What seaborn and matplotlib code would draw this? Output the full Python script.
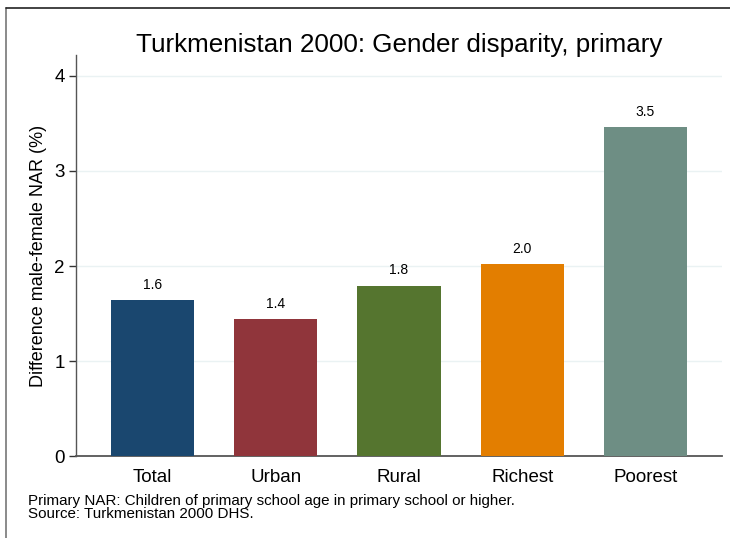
import matplotlib
matplotlib.use("Agg")
import matplotlib.pyplot as plt
from matplotlib.lines import Line2D
import seaborn as sns
import pandas as pd

categories = ["Total", "Urban", "Rural", "Richest", "Poorest"]
values = [1.64, 1.44, 1.79, 2.02, 3.46]
value_labels = ["1.6", "1.4", "1.8", "2.0", "3.5"]
colors = ["#1a476f", "#90353b", "#55752f", "#e37e00", "#6e8e84"]
yticks = [0, 1, 2, 3, 4]
title = "Turkmenistan 2000: Gender disparity, primary"
ylabel = "Difference male-female NAR (%)"
notes = ("Primary NAR: Children of primary school age in primary school or higher.\n"
         "Source: Turkmenistan 2000 DHS.")

sns.set_style("white")
plt.rcParams["font.family"] = ["Liberation Sans", "DejaVu Sans"]
plt.rcParams["text.color"] = "black"
plt.rcParams["xtick.color"] = "black"
plt.rcParams["ytick.color"] = "black"
plt.rcParams["axes.labelcolor"] = "black"

df = pd.DataFrame({"cat": categories, "val": values})

fig = plt.figure(figsize=(7.3, 5.38), dpi=100)
ax = fig.add_axes([0.104, 0.152, 0.885, 0.746])

sns.barplot(data=df, x="cat", y="val", hue="cat", palette=colors,
            width=0.675, saturation=1, legend=False, ax=ax, zorder=3,
            linewidth=0, edgecolor="none")

for p, lab in zip(ax.patches, value_labels):
    ax.text(p.get_x() + p.get_width() / 2, p.get_height() + 0.09, lab,
            ha="center", va="bottom", fontsize=10, color="black")

ax.set_xlim(-0.62, 4.62)
ax.set_ylim(0, 4.22)
ax.set_yticks(yticks)
ax.set_yticklabels([str(t) for t in yticks], fontsize=13.5)
ax.tick_params(axis="x", labelsize=13.5, length=0, pad=9)
ax.tick_params(axis="y", direction="out", length=5, width=1, color="#333333", pad=3, left=True)
ax.yaxis.grid(True, color="#eaf2f3", linewidth=1, zorder=0)
ax.xaxis.grid(False)
ax.set_xlabel("")
ax.set_ylabel(ylabel, fontsize=13, labelpad=5)
for s in ["top", "right"]:
    ax.spines[s].set_visible(False)
ax.spines["left"].set_color("#555555")
ax.spines["bottom"].set_color("#555555")
ax.spines["left"].set_linewidth(1)
ax.spines["bottom"].set_linewidth(1.3)

fig.text(0.547, 0.903, title, ha="center", va="baseline", fontsize=18.7)
fig.text(28 / 730, 0.032, notes, ha="left", va="bottom", fontsize=10.9, linespacing=0.9)

fig.add_artist(Line2D([6 / 730, 6 / 730], [0, 1 - 8 / 538], color="#777777", linewidth=1.2))
fig.add_artist(Line2D([6 / 730, 1], [1 - 8 / 538, 1 - 8 / 538], color="#222222", linewidth=1.2))

fig.savefig("out.png", dpi=100)
